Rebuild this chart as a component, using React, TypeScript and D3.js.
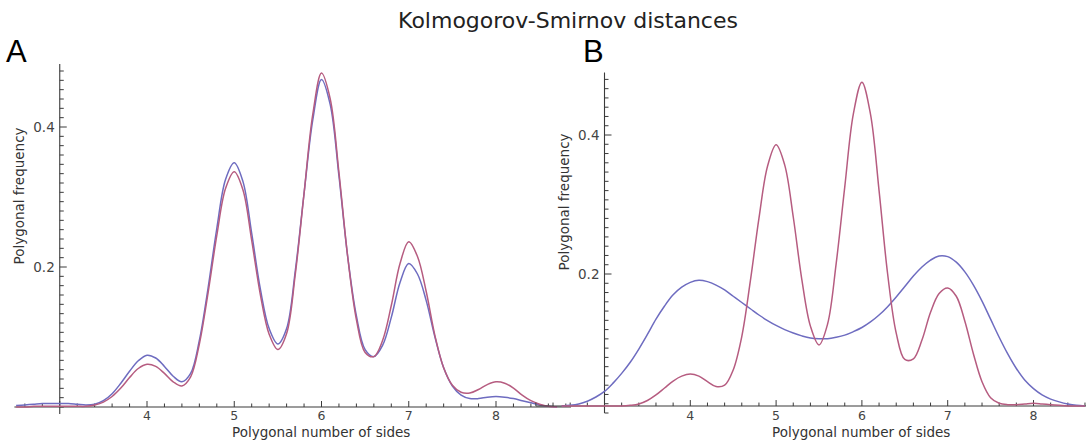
import React from "react";
import * as d3 from "d3";

// Sample grid (number of sides) for the smoothed distributions
const sidesA: number[] = d3.range(25, 88).map((i) => i / 10); // 2.5 .. 8.7
const sidesB: number[] = d3.range(25, 87).map((i) => i / 10); // 2.5 .. 8.6

// Panel A: smoothed polygon-side frequency, two samples
const freqABlue: number[] = [
  0.002, 0.003, 0.004, 0.005, 0.005,
  0.005, 0.005, 0.004, 0.003, 0.004, 0.009, 0.019, 0.034, 0.051, 0.066,
  0.074, 0.07, 0.058, 0.044, 0.036, 0.048, 0.095, 0.17, 0.255, 0.325,
  0.349, 0.322, 0.248, 0.168, 0.112, 0.09, 0.112, 0.195, 0.305, 0.41,
  0.468, 0.432, 0.33, 0.215, 0.13, 0.082, 0.072, 0.088, 0.128, 0.178,
  0.205, 0.19, 0.152, 0.1, 0.056, 0.03, 0.017, 0.012, 0.012, 0.014,
  0.015, 0.014, 0.012, 0.009, 0.006, 0.003, 0.001, 0.0,
];
const freqARed: number[] = [
  0.0, 0.0, 0.001, 0.001, 0.001,
  0.001, 0.001, 0.001, 0.001, 0.003, 0.007, 0.015, 0.027, 0.042, 0.055,
  0.061, 0.058, 0.048, 0.036, 0.03, 0.043, 0.09, 0.163, 0.245, 0.312,
  0.336, 0.31, 0.238, 0.16, 0.104, 0.082, 0.105, 0.19, 0.305, 0.418,
  0.477, 0.44, 0.335, 0.215, 0.125, 0.078, 0.072, 0.095, 0.145, 0.205,
  0.236, 0.215, 0.165, 0.102, 0.056, 0.031, 0.021, 0.02, 0.025, 0.032,
  0.036, 0.034, 0.027, 0.017, 0.009, 0.004, 0.001, 0.0,
];

// Panel B
const freqBBlue: number[] = [
  0.01, 0.011, 0.013, 0.017, 0.023,
  0.031, 0.043, 0.057, 0.073, 0.092, 0.113, 0.135, 0.154, 0.17, 0.181,
  0.188, 0.191, 0.189, 0.184, 0.177, 0.168, 0.159, 0.15, 0.141, 0.133,
  0.126, 0.12, 0.115, 0.111, 0.108, 0.107, 0.107, 0.109, 0.112, 0.117,
  0.123, 0.131, 0.141, 0.153, 0.167, 0.182, 0.197, 0.21, 0.22, 0.226,
  0.225, 0.217, 0.203, 0.184, 0.161, 0.135, 0.109, 0.085, 0.064, 0.047,
  0.035, 0.026, 0.02, 0.016, 0.013, 0.011, 0.01,
];
const freqBRed: number[] = [
  0.01, 0.01, 0.01, 0.01, 0.01,
  0.01, 0.01, 0.01, 0.011, 0.013, 0.018, 0.026, 0.036, 0.046, 0.053,
  0.056, 0.053, 0.045, 0.038, 0.04, 0.062, 0.11, 0.19, 0.28, 0.355,
  0.386, 0.357, 0.282, 0.192, 0.125, 0.098, 0.128, 0.215, 0.325, 0.43,
  0.476, 0.43, 0.32, 0.2, 0.115, 0.077, 0.078, 0.105, 0.145, 0.172,
  0.18, 0.168, 0.132, 0.085, 0.045, 0.022, 0.014, 0.012, 0.012, 0.013,
  0.014, 0.013, 0.012, 0.011, 0.01, 0.01, 0.01,
];

const xTickLabels = [4, 5, 6, 7, 8];
const yTickLabels = [0.2, 0.4];

const BLUE = "#6e6cc0";
const RED = "#b65c80";
const AXIS = "#3a3a3a";
const FONT = "DejaVu Sans, Verdana, sans-serif";

type PanelProps = {
  letter: string;
  letterX: number;
  xs: number[];
  blue: number[];
  red: number[];
  xRange: [number, number];
  yRange: [number, number];
  axisY: number; // value at which the horizontal axis sits
  xAxisExtent: [number, number];
  yAxisExtent: [number, number];
  yLabelX: number;
  yLabelY: number;
  xLabelX: number;
};

function Panel(p: PanelProps) {
  const x = d3.scaleLinear().domain([3, 8]).range(p.xRange);
  const y = d3.scaleLinear().domain([0, 0.4]).range(p.yRange);
  const line = d3
    .line<number>()
    .x((_, i) => x(p.xs[i]))
    .y((d) => y(d))
    .curve(d3.curveCatmullRom.alpha(0.5));

  const y0 = y(p.axisY);
  const xOrigin = x(3);

  // minor x ticks every 0.2
  const xMinor = d3
    .range(Math.ceil(p.xAxisExtent[0] * 5), Math.floor(p.xAxisExtent[1] * 5) + 1)
    .map((i) => i / 5);
  // minor y ticks
  const yStep = 0.2 / 15;
  const yMinor = d3
    .range(Math.ceil(Math.max(0, p.yAxisExtent[0]) / yStep), Math.floor(p.yAxisExtent[1] / yStep) + 1)
    .map((i) => i * yStep);

  return (
    <g>
      <text x={p.letterX} y={62} fontFamily="Liberation Sans, Arial, sans-serif" fontSize={31} fill="#000">
        {p.letter}
      </text>
      {/* axes */}
      <line x1={x(p.xAxisExtent[0])} x2={x(p.xAxisExtent[1])} y1={y0} y2={y0} stroke={AXIS} strokeWidth={1.1} />
      <line x1={xOrigin} x2={xOrigin} y1={y(p.yAxisExtent[0])} y2={y(p.yAxisExtent[1])} stroke={AXIS} strokeWidth={1.1} />
      {xMinor.map((v) => {
        const major = Math.abs(v - Math.round(v)) < 1e-6;
        return (
          <line key={"xt" + v} x1={x(v)} x2={x(v)} y1={y0} y2={y0 - (major ? 6 : 3.5)} stroke={AXIS} strokeWidth={1} />
        );
      })}
      {yMinor.map((v, i) => {
        const major = yTickLabels.some((t) => Math.abs(t - v) < 1e-6);
        return (
          <line key={"yt" + i} x1={xOrigin} x2={xOrigin + (major ? 7 : 4)} y1={y(v)} y2={y(v)} stroke={AXIS} strokeWidth={1} />
        );
      })}
      {xTickLabels.map((v) => (
        <text key={"xl" + v} x={x(v)} y={420} textAnchor="middle" fontFamily={FONT} fontSize={12.5} fill="#444">
          {v}
        </text>
      ))}
      {yTickLabels.map((v) => (
        <text key={"yl" + v} x={xOrigin - 5} y={y(v)} dy="0.35em" textAnchor="end" fontFamily={FONT} fontSize={13.5} fill="#444">
          {v.toFixed(1)}
        </text>
      ))}
      <text x={p.xLabelX} y={437} fontFamily={FONT} fontSize={13.5} fill="#333">
        Polygonal number of sides
      </text>
      <text
        transform={`translate(${p.yLabelX},${p.yLabelY}) rotate(-90)`}
        textAnchor="middle"
        fontFamily={FONT}
        fontSize={13.5}
        fill="#333"
      >
        Polygonal frequency
      </text>
      <path d={line(p.blue) || ""} fill="none" stroke={BLUE} strokeWidth={1.5} />
      <path d={line(p.red) || ""} fill="none" stroke={RED} strokeWidth={1.5} />
    </g>
  );
}

export default function App() {
  return (
    <svg
      width={1086}
      height={443}
      style={{ position: "absolute", left: 0, top: 0, background: "#fff" }}
    >
      <rect width={1086} height={443} fill="#fff" />
      <text x={568} y={28} textAnchor="middle" fontFamily={FONT} fontSize={22} fill="#222">
        Kolmogorov-Smirnov distances
      </text>
      <Panel
        letter="A"
        letterX={6}
        xs={sidesA}
        blue={freqABlue}
        red={freqARed}
        xRange={[59.75, 496]}
        yRange={[407, 127]}
        axisY={0}
        xAxisExtent={[2.48, 8.86]}
        yAxisExtent={[-0.01, 0.49]}
        yLabelX={24}
        yLabelY={196}
        xLabelX={232}
      />
      <Panel
        letter="B"
        letterX={583}
        xs={sidesB}
        blue={freqBBlue}
        red={freqBRed}
        xRange={[604.5, 1033.5]}
        yRange={[413, 135]}
        axisY={0.01}
        xAxisExtent={[2.2, 8.62]}
        yAxisExtent={[0, 0.49]}
        yLabelX={569}
        yLabelY={202}
        xLabelX={772}
      />
    </svg>
  );
}
